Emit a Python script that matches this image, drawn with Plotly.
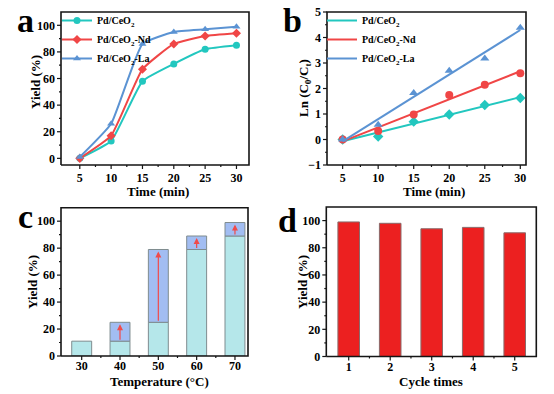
import plotly.graph_objects as go
import numpy as np

# ---------------- data ----------------
time_min = [5, 10, 15, 20, 25, 30]
yield_ceo2 = [0, 13, 58, 71, 82, 85]
yield_nd = [0, 17, 67, 86, 92, 94]
yield_la = [1, 26, 86, 95, 97, 99]

ln_ceo2 = [0, 0.12, 0.70, 0.98, 1.35, 1.63]
ln_nd = [0, 0.33, 0.98, 1.75, 2.15, 2.60]
ln_la = [0, 0.58, 1.82, 2.70, 3.18, 4.38]

temps = ["30", "40", "50", "60", "70"]
yield_before = [11, 11, 25, 79, 89]
yield_after = [11, 25, 79, 89, 99]

cycles = ["1", "2", "3", "4", "5"]
cycle_yield = [99, 98, 94, 95, 91]

# tick values
time_ticks = [5, 10, 15, 20, 25, 30]
yield_ticks = [0, 20, 40, 60, 80, 100]
ln_ticks = [-1, 0, 1, 2, 3, 4, 5]

names = ["Pd/CeO<sub>2</sub>", "Pd/CeO<sub>2</sub>-Nd", "Pd/CeO<sub>2</sub>-La"]
colors = ["#22c7bf", "#f04646", "#5b93d3"]

FONT = "Liberation Serif"
W, H = 554, 394

pos_c = list(range(len(temps)))
pos_d = list(range(1, len(cycles) + 1))

# axis ranges and domains
xr_a, yr_a = [2, 32], [-5, 110]
xr_b, yr_b = [2.8, 30.8], [-1, 5]
xr_c, yr_c = [-0.54, 4.34], [0, 110]
xr_d, yr_d = [0.46, 5.52], [0, 110]
dx_a, dy_a = [61 / W, 249 / W], [1 - 165 / H, 1 - 12 / H]
dx_b, dy_b = [327 / W, 526 / W], [1 - 165 / H, 1 - 12 / H]
dx_c, dy_c = [61 / W, 248 / W], [1 - 356 / H, 1 - 207.7 / H]
dx_d, dy_d = [326.3 / W, 536.3 / W], [1 - 356.5 / H, 1 - 207 / H]

fig = go.Figure()

# ---------------- panel a ----------------
symbols_a = ["circle", "diamond", "triangle-up"]
for nm, yv, c, s in zip(names, [yield_ceo2, yield_nd, yield_la], colors, symbols_a):
    fig.add_trace(go.Scatter(
        x=time_min, y=yv, name=nm, mode="lines+markers",
        line=dict(color=c, width=2, shape="spline", smoothing=0.4),
        marker=dict(symbol=s, size=7, color=c),
        xaxis="x", yaxis="y", legend="legend"))

# ---------------- panel b ----------------
symbols_b = ["diamond", "circle", "triangle-up"]
xs = np.array(time_min, dtype=float)
for nm, yv, c, s in zip(names, [ln_ceo2, ln_nd, ln_la], colors, symbols_b):
    fig.add_trace(go.Scatter(
        x=time_min, y=yv, mode="markers", showlegend=False,
        marker=dict(symbol=s, size=8, color=c),
        xaxis="x2", yaxis="y2"))
    k, b = np.polyfit(xs, np.array(yv), 1)
    fig.add_trace(go.Scatter(
        x=xs, y=k * xs + b, name=nm, mode="lines",
        line=dict(color=c, width=2),
        xaxis="x2", yaxis="y2", legend="legend2"))

# ---------------- panel c ----------------
fig.add_trace(go.Bar(
    x=pos_c, y=yield_before, width=0.52, showlegend=False,
    marker=dict(color="#b5e7ea", line=dict(color="#7f8c8f", width=1)),
    xaxis="x3", yaxis="y3"))
inc_x = [p for p, a, b0 in zip(pos_c, yield_after, yield_before) if a > b0]
inc_base = [b0 for a, b0 in zip(yield_after, yield_before) if a > b0]
inc_h = [a - b0 for a, b0 in zip(yield_after, yield_before) if a > b0]
fig.add_trace(go.Bar(
    x=inc_x, y=inc_h, base=inc_base, width=0.52, showlegend=False,
    marker=dict(color="#a2bdf2", line=dict(color="#7f8c8f", width=1)),
    xaxis="x3", yaxis="y3"))

# ---------------- panel d ----------------
fig.add_trace(go.Bar(
    x=pos_d, y=cycle_yield, width=0.52, showlegend=False,
    marker=dict(color="#ec2020", line=dict(color="#8a6a6a", width=1)),
    xaxis="x4", yaxis="y4"))

# ---------------- axis frames and ticks (overlay layer in page pixels) ----------------
def mids(v):
    return [(v[i] + v[i + 1]) / 2 for i in range(len(v) - 1)]

def frame_ticks(dx, dy, xr, yr, xmaj, ymaj):
    def px(v):
        return dx[0] * W + (v - xr[0]) / (xr[1] - xr[0]) * (dx[1] - dx[0]) * W
    def py(v):
        return (1 - dy[1]) * H + (yr[1] - v) / (yr[1] - yr[0]) * (dy[1] - dy[0]) * H
    l, r, bt, tp = px(xr[0]), px(xr[1]), py(yr[0]), py(yr[1])
    fig.add_trace(go.Scatter(
        x=[l, r, r, l, l], y=[bt, bt, tp, tp, bt], mode="lines",
        line=dict(color="#151515", width=1.6), showlegend=False, hoverinfo="skip",
        xaxis="x5", yaxis="y5"))
    tx, ty = [], []
    for vals, ln in [(xmaj, 4), (mids(xmaj), 2)]:
        for v in vals:
            tx += [px(v), px(v), None]
            ty += [bt, bt + ln, None]
    for vals, ln in [(ymaj, 4), (mids(ymaj), 2)]:
        for v in vals:
            tx += [l, l - ln, None]
            ty += [py(v), py(v), None]
    fig.add_trace(go.Scatter(
        x=tx, y=ty, mode="lines", line=dict(color="#151515", width=1.2),
        showlegend=False, hoverinfo="skip", xaxis="x5", yaxis="y5"))

frame_ticks(dx_a, dy_a, xr_a, yr_a, time_ticks, yield_ticks)
frame_ticks(dx_b, dy_b, xr_b, yr_b, time_ticks, ln_ticks)
frame_ticks(dx_c, dy_c, xr_c, yr_c, pos_c, yield_ticks)
frame_ticks(dx_d, dy_d, xr_d, yr_d, pos_d, yield_ticks)

annotations = []
# arrows in panel c
for p, a, b0 in zip(pos_c, yield_after, yield_before):
    if a > b0:
        annotations.append(dict(
            x=p, y=a, ax=p, ay=b0, xref="x3", yref="y3", axref="x3", ayref="y3",
            text="", showarrow=True, arrowhead=2, arrowsize=1, arrowwidth=1.2,
            arrowcolor="#f04a4a", standoff=2))

# panel letters
for txt, x, y in [("a", 25, 20), ("b", 292, 20), ("c", 25, 216), ("d", 287, 220)]:
    annotations.append(dict(
        text=txt, x=x / W, y=1 - y / H, xref="paper", yref="paper",
        showarrow=False, xanchor="center", yanchor="middle",
        font=dict(family=FONT, size=34, color="black", weight="bold")))

# axis titles
title_font = dict(family=FONT, size=13, color="black", weight="bold")
for txt, x, y, ang in [
        ("Time (min)", 158, 191, 0), ("Time (min)", 434, 191, 0),
        ("Temperature (°C)", 159, 381, 0), ("Cycle times", 431, 381, 0),
        ("Yield (%)", 35, 82, -90), ("Ln (C<sub>0</sub>/C<sub>t</sub>)", 304, 88, -90),
        ("Yield (%)", 32, 282, -90), ("Yield (%)", 302, 282, -90)]:
    annotations.append(dict(
        text=txt, x=x / W, y=1 - y / H, xref="paper", yref="paper",
        showarrow=False, xanchor="center", yanchor="middle", textangle=ang,
        font=title_font))

tick_font = dict(family=FONT, size=12, color="black", weight="bold")

def ax_base(std, **kw):
    d = dict(showline=False, ticks="", showgrid=False, zeroline=False,
             automargin=False, tickfont=tick_font, tickmode="array",
             ticklabelstandoff=std)
    d.update(kw)
    return d

fig.update_layout(
    template="none",
    width=W, height=H,
    margin=dict(l=0, r=0, t=0, b=0),
    paper_bgcolor="white", plot_bgcolor="rgba(0,0,0,0)",
    barmode="overlay",
    xaxis=ax_base(4, domain=dx_a, anchor="y", range=xr_a, tickvals=time_ticks),
    yaxis=ax_base(5, domain=dy_a, anchor="x", range=yr_a, tickvals=yield_ticks),
    xaxis2=ax_base(4, domain=dx_b, anchor="y2", range=xr_b, tickvals=time_ticks),
    yaxis2=ax_base(5, domain=dy_b, anchor="x2", range=yr_b, tickvals=ln_ticks),
    xaxis3=ax_base(1, domain=dx_c, anchor="y3", range=xr_c, tickvals=pos_c, ticktext=temps),
    yaxis3=ax_base(5, domain=dy_c, anchor="x3", range=yr_c, tickvals=yield_ticks),
    xaxis4=ax_base(1, domain=dx_d, anchor="y4", range=xr_d, tickvals=pos_d, ticktext=cycles),
    yaxis4=ax_base(5, domain=dy_d, anchor="x4", range=yr_d, tickvals=yield_ticks),
    xaxis5=dict(domain=[0, 1], range=[0, W], visible=False, anchor="y5", fixedrange=True),
    yaxis5=dict(domain=[0, 1], range=[H, 0], visible=False, anchor="x5", fixedrange=True),
    legend=dict(x=57 / W, y=1 - 6 / H, xanchor="left", yanchor="top",
                bgcolor="rgba(0,0,0,0)", itemwidth=30, tracegroupgap=0,
                font=dict(family=FONT, size=10, color="black", weight="bold")),
    legend2=dict(x=322 / W, y=1 - 6 / H, xanchor="left", yanchor="top",
                 bgcolor="rgba(0,0,0,0)", itemwidth=30, tracegroupgap=0,
                 font=dict(family=FONT, size=10, color="black", weight="bold")),
    annotations=annotations,
)

fig.write_html("out.html", post_script="document.body.style.margin='0';",
               config={"displayModeBar": False})
